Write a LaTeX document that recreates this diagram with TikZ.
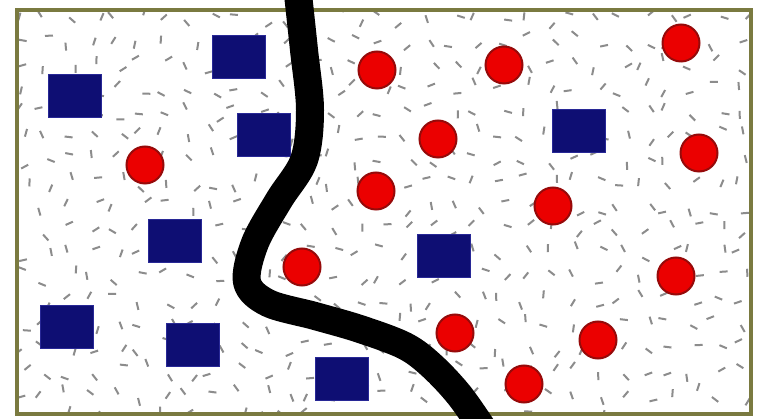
\documentclass[tikz,border=0pt]{standalone}
\definecolor{frameol}{RGB}{122,122,64}
\definecolor{dashgray}{RGB}{140,140,140}
\definecolor{sqblue}{RGB}{14,14,115}
\definecolor{sqedge}{RGB}{40,40,150}
\definecolor{redfill}{RGB}{235,0,0}
\definecolor{rededge}{RGB}{150,10,10}
\tikzset{
  sq/.style={rectangle,draw=sqedge,fill=sqblue,line width=0.8pt,minimum width=53pt,minimum height=43pt,inner sep=0pt},
  ball/.style={circle,draw=rededge,fill=redfill,line width=2pt,minimum size=37pt,inner sep=0pt},
  fleck/.style={dashgray,line width=2pt},
  wall/.style={black,line width=28pt,line join=round}
}
\begin{document}
\begin{tikzpicture}[x=1pt,y=-1pt]
\useasboundingbox (0,0) rectangle (761,419);
\fill[white] (0,0) rectangle (761,419);
\begin{scope}
\clip (17,10) rectangle (751,414);
\pgfmathsetseed{12345}
\foreach \i in {0,...,30}{\foreach \j in {0,...,17}{
  \pgfmathsetmacro{\dx}{22+\i*24+8*rand}
  \pgfmathsetmacro{\dy}{18+\j*23.5+8*rand}
  \pgfmathsetmacro{\ang}{180*rnd}
  \draw[fleck] (\dx,\dy) ++(\ang:4) -- ++(\ang+180:8);
}}
\end{scope}
% squares
\node[sq] (s1) at (75,96) {};
\node[sq] (s2) at (239,57) {};
\node[sq] (s3) at (264,135) {};
\node[sq] (s4) at (175,241) {};
\node[sq] (s5) at (444,256) {};
\node[sq] (s6) at (579,131) {};
\node[sq] (s7) at (67,327) {};
\node[sq] (s8) at (193,345) {};
\node[sq] (s9) at (342,379) {};
% circles
\node[ball] (c1) at (145,165) {};
\node[ball] (c2) at (377,70) {};
\node[ball] (c3) at (504,65) {};
\node[ball] (c4) at (681,43) {};
\node[ball] (c5) at (438,139) {};
\node[ball] (c6) at (699,153) {};
\node[ball] (c7) at (376,191) {};
\node[ball] (c8) at (553,206) {};
\node[ball] (c9) at (302,267) {};
\node[ball] (c10) at (676,276) {};
\node[ball] (c11) at (455,333) {};
\node[ball] (c12) at (598,340) {};
\node[ball] (c13) at (524,384) {};
% frame
\draw[frameol,line width=4pt] (17,10) rectangle (751,414);
% black boundary curve
\begin{scope}
\clip (0,0) rectangle (761,419);
\draw[wall] plot[smooth,tension=0.55] coordinates {(297,-15) (304,50) (310,110) (304,160) (279,200) (255,243) (247,282) (268,303) (315,316) (360,329) (405,346) (432,366) (460,396) (487,435)};
\end{scope}
\end{tikzpicture}
\end{document}
